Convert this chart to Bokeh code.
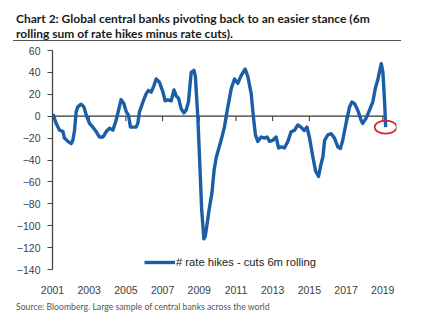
from bokeh.plotting import figure
from bokeh.layouts import column
from bokeh.models import Range1d, FixedTicker, Legend, LegendItem, Div
from bokeh.embed import file_html
from bokeh.resources import INLINE

# ---- data ----
dates = [2001.02, 2001.20, 2001.38, 2001.57, 2001.65, 2001.84, 2002.02, 2002.11, 2002.20, 2002.29,
         2002.38, 2002.56, 2002.71, 2002.84, 2003.02, 2003.20, 2003.38, 2003.56, 2003.75, 2003.93,
         2004.11, 2004.29, 2004.47, 2004.60, 2004.74, 2004.89, 2005.02, 2005.14, 2005.25, 2005.44,
         2005.56, 2005.65, 2005.74, 2005.93, 2006.11, 2006.23, 2006.38, 2006.53, 2006.65, 2006.83,
         2007.02, 2007.14, 2007.29, 2007.47, 2007.62, 2007.74, 2007.87, 2008.01, 2008.16, 2008.28,
         2008.41, 2008.56, 2008.71, 2008.79, 2008.92, 2009.02, 2009.13, 2009.25, 2009.32, 2009.38,
         2009.54, 2009.69, 2009.81, 2009.92, 2010.19, 2010.37, 2010.52, 2010.74, 2010.92, 2011.10,
         2011.28, 2011.50, 2011.65, 2011.83, 2011.95, 2012.06, 2012.19, 2012.37, 2012.55, 2012.70,
         2012.83, 2013.01, 2013.19, 2013.32, 2013.46, 2013.64, 2013.83, 2014.01, 2014.19, 2014.37,
         2014.54, 2014.72, 2014.87, 2015.00, 2015.19, 2015.34, 2015.50, 2015.62, 2015.74, 2015.83,
         2016.01, 2016.19, 2016.37, 2016.55, 2016.69, 2016.82, 2017.00, 2017.19, 2017.32, 2017.46,
         2017.64, 2017.82, 2017.91, 2018.09, 2018.28, 2018.46, 2018.59, 2018.74, 2018.92, 2019.01,
         2019.11, 2019.16]
net_hikes = [2, -6.6, -12.7, -14, -20, -23, -25, -22, -13, 4,
             8.5, 11, 8.5, 1, -6.6, -10, -14, -19, -19, -14,
             -11, -12.7, -3.6, 5.5, 15, 11.5, 4, 1, -10, -10,
             -10, -6.6, 4, 13, 20.6, 23.6, 22, 28, 34, 31,
             22, 14, 15, 14, 24, 18.5, 16.5, 7, 3, 5.5,
             13, 40, 42, 36, -0.6, -40, -85, -112, -110, -104,
             -85, -70, -49, -38, -22, -10, 5, 25, 34, 30,
             37, 43, 36, 20.6, -0.6, -17, -23, -19, -20, -19,
             -23, -22, -19, -29, -28, -29, -23, -14, -13, -8,
             -10, -13, -10, -19, -37, -50, -55, -45, -37, -22,
             -17, -16, -20, -28, -29.5, -22, -6.6, 8.5, 13, 11.5,
             5.5, -3.6, -6.6, -2, 5.5, 13, 25, 34, 48, 40,
             10, -10]
x_ticks = [2001, 2003, 2005, 2007, 2009, 2011, 2013, 2015, 2017, 2019]
y_ticks = [60, 40, 20, 0, -20, -40, -60, -80, -100, -120, -140]

series_label = "# rate hikes - cuts 6m rolling"
title_lines = ["Chart 2: Global central banks pivoting back to an easier stance (6m",
               "rolling sum of rate hikes minus rate cuts)."]
source_text = "Source: Bloomberg. Large sample of central banks across the world"

SANS = "Liberation Sans"
TITLE_FONT = "Lato"
BLUE = "#1a5ea5"
W = 437
LEFT, RIGHT = 52, 41

# ---- title block (HTML) ----
TH = 42
title_html = (
    f'<div style="position:relative;width:{W}px;height:{TH}px;overflow:hidden;">'
    f'<div style="position:absolute;left:16px;top:10.5px;white-space:nowrap;'
    f'font-family:{TITLE_FONT};font-weight:bold;font-size:12px;line-height:15px;color:#1a1a1a;">'
    f'{title_lines[0]}<br>{title_lines[1]}</div>'
    f'<div style="position:absolute;left:13px;top:40px;width:388px;height:0;'
    f'border-top:1px solid #555555;"></div></div>'
)
t = Div(text=title_html, width=W, height=TH, margin=0)

# ---- main chart ----
p = figure(width=W, height=254, output_backend="svg", toolbar_location=None,
           x_range=Range1d(2001.0, 2019.75), y_range=Range1d(-140, 60),
           min_border_left=LEFT, min_border_right=RIGHT, min_border_top=8, min_border_bottom=26)
p.outline_line_color = None
p.xgrid.visible = False
p.ygrid.visible = False

ya = p.yaxis[0]
ya.ticker = FixedTicker(ticks=y_ticks)
ya.axis_line_color = "#444444"
ya.axis_line_width = 1.3
ya.major_tick_line_color = "#444444"
ya.major_tick_out = 5
ya.major_tick_in = 0
ya.minor_tick_line_color = None
ya.major_label_standoff = 7
ya.major_label_text_font = SANS
ya.major_label_text_font_size = "10.5px"
ya.major_label_text_color = "#404040"

xa = p.xaxis[0]
xa.ticker = FixedTicker(ticks=x_ticks)
xa.axis_line_color = None
xa.major_tick_line_color = None
xa.minor_tick_line_color = None
xa.major_label_standoff = 10
xa.major_label_text_font = SANS
xa.major_label_text_font_size = "10.5px"
xa.major_label_text_color = "#404040"

# zero line with tick marks hanging below it
p.segment(x0=[dates[0]], x1=[dates[-1]], y0=[0], y1=[0], line_color="#333333", line_width=1.2)
p.segment(x0=x_ticks, x1=x_ticks, y0=[0] * len(x_ticks), y1=[-4.5] * len(x_ticks),
          line_color="#333333", line_width=1)

line = p.line(dates, net_hikes, line_color=BLUE, line_width=3.4, line_join="round")

# red circle around the latest reading
p.ellipse(x=[dates[-1]], y=[net_hikes[-1]], width=22, height=13,
          width_units="screen", height_units="screen",
          fill_color=None, line_color="#d0262b", line_width=1.6)

legend = Legend(items=[LegendItem(label=series_label, renderers=[line])],
                location=(92, 1), orientation="horizontal",
                glyph_width=31, glyph_height=10, label_standoff=1, label_height=12,
                padding=0, margin=0, spacing=0,
                border_line_color=None, background_fill_alpha=0,
                label_text_font=SANS, label_text_font_size="11.2px",
                label_text_color="#222222")
p.add_layout(legend, "center")

# ---- source line (HTML) ----
SH = 25
source_html = (
    f'<div style="position:relative;width:{W}px;height:{SH}px;overflow:hidden;">'
    f'<div style="position:absolute;left:16px;top:5px;white-space:nowrap;'
    f'font-family:{TITLE_FONT};font-size:8.7px;line-height:12px;color:#555555;">'
    f'{source_text}</div></div>'
)
s = Div(text=source_html, width=W, height=SH, margin=0)

layout = column(t, p, s, spacing=0)
open("out.html", "w").write(file_html(layout, INLINE))
